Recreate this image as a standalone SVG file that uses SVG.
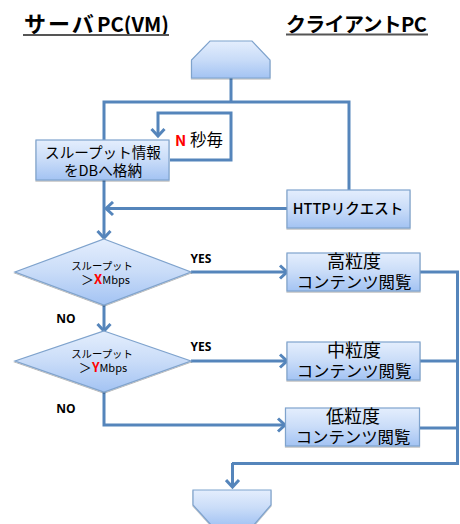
<svg xmlns="http://www.w3.org/2000/svg" width="460" height="524" viewBox="0 0 460 524">
<style>
text{font-family:"Noto Sans CJK JP","Noto Sans",sans-serif;fill:#000;text-anchor:middle}
.n{fill:url(#g);stroke:#7fa3cd;stroke-width:1.2;filter:url(#s)}
.c{fill:none;stroke:#5585bb;stroke-width:3}
.a{fill:none;stroke:#5585bb;stroke-width:3;marker-end:url(#m)}
.h{font-size:20px;font-weight:700;text-anchor:start}
.b{font-size:14.6px}
.t{font-size:18px}
.v{font-size:16.4px}
.d{font-size:10.4px}
.e{font-size:11px}
.l{font-size:12px;font-weight:700;font-family:"Open Sans","Noto Sans",sans-serif}
.r{fill:#f00;font-weight:700}
.u{stroke:#555;stroke-width:2;fill:none}
</style>
<defs>
<linearGradient id="g" x1="0" y1="0" x2="0" y2="1"><stop offset="0" stop-color="#e4eefd"/><stop offset="0.5" stop-color="#c9dcf8"/><stop offset="1" stop-color="#a3c3f3"/></linearGradient>
<filter id="s" x="-5%" y="-5%" width="110%" height="120%"><feDropShadow dx="0" dy="1" stdDeviation="0.6" flood-color="#000" flood-opacity="0.3"/></filter>
<marker id="m" markerUnits="userSpaceOnUse" markerWidth="16" markerHeight="16" refX="12" refY="8" orient="auto"><path d="M5 1.500L12 8L5 14.500" fill="none" stroke="#5585bb" stroke-width="3"/></marker>
</defs>
<g id="titles">
<text class="h" x="24" y="32" style="font-size:22px;letter-spacing:2px">サーバ</text>
<text class="h" x="97" y="32" textLength="72" lengthAdjust="spacingAndGlyphs">PC(VM)</text>
<path class="u" d="M23 35H169"/>
<text class="h" x="286" y="32" style="letter-spacing:-.7px">クライアントPC</text>
<path class="u" d="M286 34.500H428"/>
</g>
<g id="connectors">
<path class="c" d="M231 78V102M104 140V102H349V190"/>
<path class="a" d="M170 160H231V113H158V136"/>
<path class="a" d="M104 180V238"/>
<path class="a" d="M287 208.500H106"/>
<path class="a" d="M191 272H287"/>
<path class="a" d="M104 305V331"/>
<path class="a" d="M191 361H287"/>
<path class="c" d="M104 392V425H170"/>
<path class="a" d="M170 425H285"/>
<path class="c" d="M420 272H457.500V463.500H232"/>
<path class="a" d="M232.500 463V487"/>
<path class="c" d="M420 361H457.500M420 428H457.500"/>
</g>
<g id="start"><path class="n" d="M210 41H252L270 60V78H191.500V60Z"/></g>
<g id="n-sec"><text x="199" y="146" style="font-size:16.500px"><tspan class="r" style="font-size:15px">N</tspan> 秒毎</text></g>
<g id="store"><rect class="n" x="36" y="140" width="133" height="40"/><text class="b" x="103" y="158">スループット情報<tspan x="103" dy="17.500">をDBへ格納</tspan></text></g>
<g id="http"><rect class="n" x="287" y="190" width="123" height="38"/><text x="348" y="214" style="font-weight:500;font-size:14.500px">HTTPリクエスト</text></g>
<g id="d1"><path class="n" d="M104 239L191 272L104 305L15 272Z"/><text class="d" x="102" y="270">スループット<tspan class="e" x="105.500" dy="14"><tspan font-size="13">＞</tspan><tspan class="r" font-size="13">X</tspan>Mbps</tspan></text></g>
<g id="d2"><path class="n" d="M104 331L191 361L104 392L15 361Z"/><text class="d" x="102" y="358">スループット<tspan class="e" x="103" dy="14"><tspan font-size="13">＞</tspan><tspan class="r" font-size="13">Y</tspan>Mbps</tspan></text></g>
<g id="high"><rect class="n" x="287" y="253" width="133" height="38"/><text class="t" x="354" y="268">高粒度<tspan class="v" x="354" dy="20">コンテンツ閲覧</tspan></text></g>
<g id="mid"><rect class="n" x="287" y="342" width="133" height="38"/><text class="t" x="354" y="357">中粒度<tspan class="v" x="354" dy="20">コンテンツ閲覧</tspan></text></g>
<g id="low"><rect class="n" x="285.500" y="408" width="134" height="38"/><text class="t" x="353" y="423">低粒度<tspan class="v" x="353" dy="20">コンテンツ閲覧</tspan></text></g>
<g id="end"><path class="n" d="M193 490H271V505L253 526H212L193 505Z"/></g>
<g id="labels">
<text class="l" x="201" y="263">YES</text><text class="l" x="201" y="351">YES</text>
<text class="l" x="66" y="323">NO</text><text class="l" x="66" y="413">NO</text>
</g>
</svg>
